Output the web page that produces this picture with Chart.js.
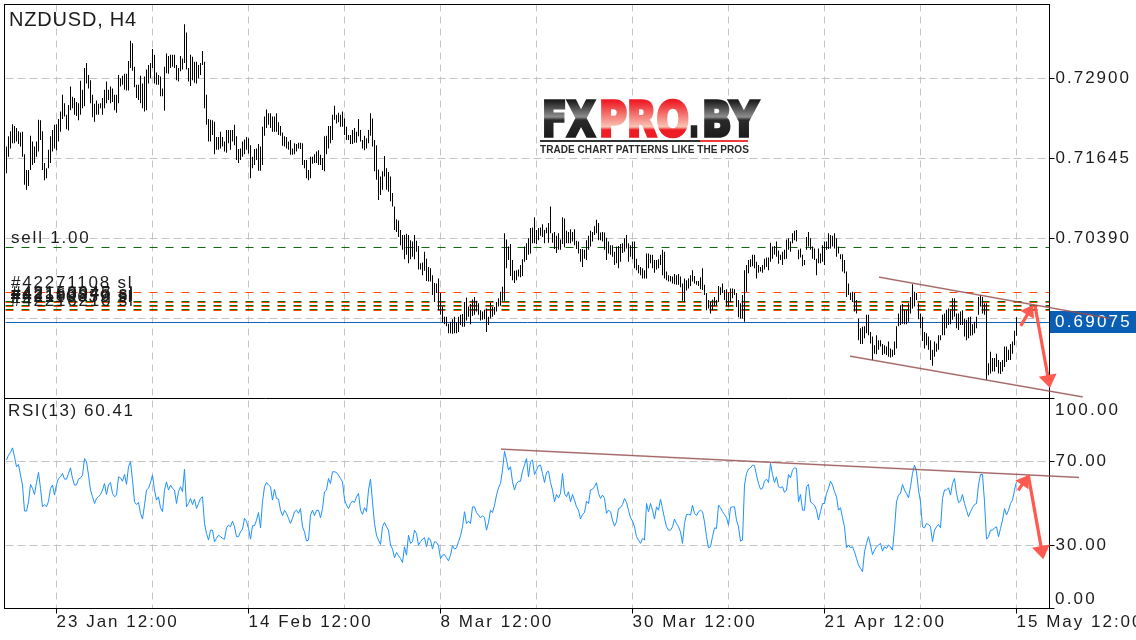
<!DOCTYPE html>
<html>
<head>
<meta charset="utf-8">
<title>NZDUSD, H4</title>
<script src="https://cdn.jsdelivr.net/npm/chart.js@4"></script>
<style>
  html, body { margin: 0; padding: 0; background: #fff; overflow: hidden; }
  canvas { display: block; }
</style>
</head>
<body>
<canvas id="chart" width="1136" height="640"></canvas>
<script>
// prices are kept in pips (7290 = 0.72900)
const highs = [
  7183,7199,7207,7218,7215,7212,7207,7205,7206,7171,7146,7146,7200,7191,7183,7191,7225,7224,7207,7157,
  7149,7178,7199,7209,7217,7218,7226,7238,7264,7251,7233,7248,7277,7261,7259,7253,7251,7286,7272,7306,
  7314,7295,7287,7264,7250,7255,7250,7251,7259,7272,7285,7272,7277,7274,7264,7264,7295,7290,7294,7297,
  7297,7317,7349,7345,7308,7280,7280,7294,7282,7293,7304,7311,7314,7336,7327,7299,7295,7293,7274,7308,
  7329,7325,7327,7327,7327,7311,7306,7325,7321,7375,7362,7306,7327,7324,7316,7316,7311,7314,7333,7316,
  7264,7226,7225,7224,7222,7198,7198,7206,7198,7191,7209,7209,7209,7209,7217,7199,7179,7180,7191,7194,
  7198,7196,7185,7167,7179,7180,7187,7183,7214,7230,7241,7235,7235,7230,7230,7235,7221,7215,7205,7199,
  7198,7191,7193,7180,7188,7187,7189,7189,7188,7162,7162,7146,7167,7167,7171,7175,7177,7170,7165,7199,
  7200,7215,7215,7233,7247,7233,7236,7233,7238,7227,7214,7201,7201,7209,7212,7206,7226,7209,7193,7200,
  7196,7209,7235,7227,7193,7185,7147,7136,7144,7168,7149,7143,7136,7110,7089,7069,7067,7052,7044,7044,
  7046,7044,7036,7034,7044,7035,7027,7000,7001,7018,7007,6994,6992,6981,6969,6968,6976,6953,6932,6916,
  6916,6905,6908,6912,6916,6907,6916,6919,6920,6939,6946,6932,6936,6943,6947,6941,6937,6926,6924,6927,
  6929,6916,6938,6931,6931,6939,6945,6955,6963,7047,7037,7026,7030,7005,6988,6989,6990,6997,7006,7026,
  7031,7039,7055,7056,7072,7052,7055,7056,7061,7052,7056,7063,7089,7047,7049,7043,7047,7037,7072,7070,
  7051,7049,7053,7049,7053,7035,7034,7022,7022,7021,7036,7043,7051,7049,7058,7068,7063,7048,7049,7048,
  7040,7034,7028,7028,7018,7026,7027,7030,7031,7039,7044,7031,7028,7034,7034,7007,6997,6994,6992,6989,
  7015,7015,7013,7013,7005,7005,7006,7013,7021,7018,6987,6981,6980,6979,6983,6981,6983,6979,6968,6976,
  6973,6976,6981,6989,6980,6972,6972,6978,6992,6966,6953,6942,6939,6943,6947,6942,6964,6962,6968,6958,
  6959,6954,6960,6960,6959,6953,6942,6937,6950,6989,6997,7005,7006,7013,7013,7002,6997,6994,6997,7007,
  7009,7009,7032,7026,7027,7034,7020,7013,7018,7021,7037,7039,7034,7047,7051,7052,7021,7023,7013,7005,
  7041,7049,7039,7026,7023,7007,7023,7015,7028,7034,7034,7047,7044,7043,7047,7039,7026,7014,7014,7005,
  6987,6968,6954,6955,6953,6942,6913,6898,6900,6901,6919,6919,6892,6885,6871,6887,6879,6879,6873,6871,
  6869,6877,6866,6864,6877,6901,6921,6934,6936,6926,6926,6937,6947,6967,6955,6953,6937,6921,6916,6892,
  6890,6885,6879,6864,6877,6874,6887,6887,6919,6921,6927,6929,6926,6945,6945,6921,6921,6924,6926,6913,
  6911,6915,6916,6904,6908,6916,6947,6950,6947,6937,6937,6843,6861,6851,6851,6858,6848,6845,6848,6869,
  6869,6864,6873,6877,6894,6915
];
const lows = [
  7141,7167,7180,7188,7188,7191,7187,7183,7167,7123,7115,7121,7146,7154,7157,7167,7175,7193,7146,7130,
  7133,7149,7157,7175,7180,7177,7191,7206,7226,7230,7210,7208,7240,7243,7233,7231,7224,7233,7243,7246,
  7282,7274,7251,7229,7222,7233,7233,7243,7233,7243,7251,7256,7251,7253,7240,7236,7251,7277,7280,7272,
  7271,7271,7306,7302,7276,7259,7256,7251,7243,7238,7240,7282,7290,7306,7282,7280,7280,7262,7262,7239,
  7298,7297,7306,7308,7306,7287,7285,7301,7304,7314,7304,7285,7278,7287,7283,7282,7290,7295,7311,7243,
  7217,7191,7191,7201,7171,7178,7178,7180,7183,7175,7173,7188,7178,7191,7185,7162,7157,7162,7167,7171,
  7178,7172,7133,7149,7154,7162,7145,7145,7154,7200,7212,7217,7212,7206,7206,7206,7201,7200,7184,7183,
  7180,7178,7170,7170,7171,7175,7180,7179,7154,7149,7133,7130,7133,7156,7157,7157,7154,7154,7146,7144,
  7171,7180,7188,7193,7225,7219,7221,7214,7214,7201,7193,7193,7187,7187,7189,7189,7199,7191,7180,7177,
  7180,7188,7200,7183,7144,7131,7099,7107,7115,7136,7115,7112,7097,7089,7052,7049,7041,7028,7021,7006,
  7013,7000,7006,7010,7006,7018,6990,6990,6981,6988,6972,6971,6971,6950,6939,6953,6926,6919,6907,6904,
  6901,6890,6890,6889,6890,6890,6892,6903,6900,6900,6910,6916,6904,6917,6919,6924,6919,6910,6911,6912,
  6892,6903,6913,6916,6919,6924,6932,6933,6941,6941,6992,7005,6980,6973,6969,6973,6979,6978,6980,7002,
  7005,7013,7015,7031,7031,7030,7036,7043,7041,7031,7047,7032,7047,7032,7022,7016,7021,7021,7030,7025,
  7031,7031,7031,7034,7028,7022,7015,7002,6994,7007,7005,7021,7026,7034,7044,7047,7036,7036,7034,7021,
  7005,7015,7013,7010,6997,7000,6992,7002,7016,7018,7023,7002,7010,7006,6992,6989,6984,6981,6976,6976,
  6976,6992,7000,6992,6985,6990,6992,6997,6981,6976,6973,6971,6971,6968,6967,6966,6966,6962,6941,6939,
  6957,6960,6964,6971,6968,6966,6964,6959,6958,6950,6926,6929,6921,6926,6933,6934,6939,6950,6953,6942,
  6932,6931,6939,6945,6950,6931,6915,6913,6913,6908,6955,6984,6994,6995,6992,6976,6985,6987,6985,6990,
  6994,6989,7002,7007,7013,7010,6999,7005,6997,7006,7007,7021,7018,7031,7036,7034,7006,7009,6995,6997,
  7021,7026,7021,7007,7005,6981,7000,7000,7002,6997,7021,7022,7023,7026,7023,7010,7015,7006,6987,6984,
  6947,6950,6942,6939,6924,6921,6879,6873,6873,6882,6890,6887,6874,6848,6858,6857,6864,6869,6856,6858,
  6856,6853,6852,6853,6856,6866,6901,6903,6905,6904,6904,6908,6921,6929,6932,6942,6912,6898,6878,6866,
  6871,6864,6848,6839,6853,6861,6864,6879,6887,6887,6898,6903,6904,6911,6916,6898,6895,6903,6903,6885,
  6879,6882,6886,6887,6890,6898,6919,6932,6921,6919,6817,6824,6827,6830,6830,6837,6827,6826,6830,6837,
  6845,6848,6848,6858,6871,6886
];
const rsiValues = [
  70.7,73.0,74.3,76.5,72.2,67.5,68.6,63.5,58.8,46.4,46.4,50.8,59.1,57.2,54.3,60.0,64.8,57.2,48.4,49.5,
  48.4,51.1,57.2,58.8,54.0,59.1,61.9,62.7,64.3,61.6,61.6,64.3,67.0,61.9,58.8,58.8,61.6,62.2,63.5,71.4,
  69.9,63.5,56.4,53.2,50.0,52.4,53.2,54.3,56.4,59.5,54.3,58.8,60.0,54.8,53.2,54.0,62.7,62.2,60.6,63.8,
  59.1,67.5,69.9,61.1,50.8,49.5,50.5,45.3,42.6,49.2,56.4,57.2,60.0,63.5,56.4,51.6,53.2,48.0,46.1,56.4,
  60.3,56.4,58.8,57.2,56.4,50.0,55.6,58.0,55.6,66.4,48.4,50.0,52.4,49.5,52.1,47.6,50.0,52.4,53.2,40.5,
  35.7,32.6,37.3,37.3,31.8,33.4,34.9,34.2,33.4,33.0,38.4,39.7,38.9,41.6,38.9,34.2,34.2,36.5,37.8,42.9,
  41.6,38.1,33.0,39.4,39.4,42.1,45.7,38.4,50.8,58.0,60.0,58.8,58.0,51.6,56.8,52.4,52.1,46.8,44.2,46.8,
  45.3,42.9,40.5,42.9,46.1,46.8,45.3,47.6,38.9,36.5,32.1,32.6,44.5,46.8,44.2,46.8,46.8,43.2,47.6,55.6,
  56.4,61.9,59.5,65.1,65.1,64.8,63.5,61.9,60.3,52.1,49.2,47.6,50.0,51.1,50.5,53.2,54.8,46.8,44.8,48.0,
  46.1,56.4,61.6,50.8,40.5,34.9,32.6,30.5,38.9,41.0,38.9,37.3,30.2,28.3,24.2,26.7,25.1,23.8,21.9,29.4,
  25.4,34.9,31.0,31.8,37.3,35.7,30.2,31.8,33.0,33.7,29.4,33.7,32.6,28.3,31.8,31.5,29.9,23.8,25.4,25.7,
  24.2,22.7,25.4,29.9,28.3,28.9,31.8,34.6,38.9,46.1,40.5,41.6,40.5,48.4,48.4,45.7,44.5,43.2,44.2,43.2,
  37.3,41.0,46.8,45.7,49.2,54.0,57.5,59.5,65.9,74.9,70.7,65.9,67.5,60.3,56.4,59.5,60.6,60.6,65.4,68.3,
  71.4,62.7,69.9,70.7,63.8,65.9,68.0,68.3,64.3,60.0,64.8,65.4,60.0,56.4,50.8,54.3,52.7,54.8,64.3,54.8,
  53.2,55.6,50.8,54.3,51.6,48.4,46.8,42.6,44.8,45.7,51.1,50.0,56.4,56.8,58.0,59.9,54.8,52.4,54.0,52.4,
  45.3,46.8,46.1,42.1,39.2,41.3,47.6,48.0,49.5,52.4,50.5,46.8,43.2,41.6,38.9,34.2,32.6,31.0,33.4,32.6,
  50.0,46.1,50.0,46.8,42.6,48.4,46.8,52.1,47.6,42.9,38.9,37.3,37.3,38.9,42.6,40.5,38.9,36.5,31.0,40.5,
  44.8,44.8,44.5,49.2,45.3,44.2,46.1,46.8,46.1,41.3,34.2,28.9,29.4,34.2,38.4,38.1,49.2,48.0,46.1,44.8,
  43.2,39.7,48.0,48.4,48.4,42.1,38.9,32.1,32.6,58.8,64.3,66.4,67.0,68.3,68.0,63.5,59.5,56.8,57.2,60.6,
  61.6,60.0,69.1,63.8,60.0,62.7,58.0,57.5,58.0,55.3,56.4,63.8,62.2,65.9,67.0,66.7,50.8,54.3,46.8,46.8,
  58.0,59.1,50.8,50.0,49.2,46.8,42.1,46.1,50.0,50.0,54.8,57.2,60.6,58.8,55.6,53.2,46.8,48.0,43.2,38.9,
  28.9,30.2,28.9,29.4,27.0,23.8,20.7,19.1,17.5,27.0,31.0,34.2,30.2,25.7,27.8,29.4,30.2,31.0,27.3,29.4,
  28.6,30.2,29.4,27.8,38.1,50.8,54.0,54.8,59.1,56.4,54.8,52.7,58.0,64.3,68.3,65.1,56.4,50.8,38.9,38.4,
  40.5,40.0,38.9,31.8,37.3,38.9,40.0,38.4,52.4,56.4,56.4,57.5,54.0,59.5,61.9,54.8,50.5,51.1,54.3,50.0,
  46.8,43.7,46.1,48.0,49.5,50.0,58.8,63.8,63.8,50.8,33.0,34.2,37.3,37.3,38.4,38.9,34.2,38.1,42.1,47.6,
  44.5,46.8,50.0,51.6,56.4,60.41
];

// axis labels
const slotCount = 522;
const categories = Array.from({ length: slotCount }, (_, i) => i);
const dateTicks = [25, 73, 121, 169, 217, 265, 313, 361, 409, 457, 505];
const dateLabels = { 25: '23 Jan 12:00', 121: '14 Feb 12:00', 217: '8 Mar 12:00', 313: '30 Mar 12:00', 409: '21 Apr 12:00', 505: '15 May 12:00' };
const priceTicks = [7290, 7164.5, 7039, 6913.5];
const rsiTicks = [100, 70, 30, 0];

// order lines
const currentPrice = 6907.5;
const sellLevels = [7025, 6940, 6934, 6927];
const stopLevels = [6954, 6938, 6932, 6926];
const sellLabel = ['sell 1.00', 7025];
const stopLabels = ['#42271108 sl', '#42150945 sl', '#42163947 sl', '#42189270 sl', '#42110639 sl', '#42216210 sl'];
const stopLabelLevels = [6954, 6938, 6936, 6934, 6932, 6926];

// hand drawn lines: [bar index, value]
const priceTrends = [
  [[436.25, 6978], [552.25, 6913]],
  [[421.75, 6854], [538.1, 6790]]
];
const rsiTrend = [[247.25, 75.9], [536.25, 62.4]];
const priceArrows = [
  [[507.1, 6901.5], [513.25, 6934.5]],
  [[514.25, 6933], [521.75, 6804]]
];
const rsiArrows = [
  [[505.9, 56.3], [510.9, 63.5]],
  [[510.9, 63.5], [518.4, 23.5]]
];

const FONT = '"Liberation Sans", Arial, sans-serif';
const TEXT_COLOR = '#1c1c1c';
const GRID_COLOR = '#c4c4c4';

function drawArrow(ctx, x1, y1, x2, y2, head) {
  const a = Math.atan2(y2 - y1, x2 - x1);
  ctx.strokeStyle = '#ff5a50';
  ctx.fillStyle = '#ff5a50';
  ctx.lineWidth = 3.2;
  ctx.beginPath();
  ctx.moveTo(x1, y1);
  ctx.lineTo(x2 - Math.cos(a) * head * 0.7, y2 - Math.sin(a) * head * 0.7);
  ctx.stroke();
  ctx.beginPath();
  ctx.moveTo(x2, y2);
  ctx.lineTo(x2 - Math.cos(a - 0.6) * head, y2 - Math.sin(a - 0.6) * head);
  ctx.lineTo(x2 - Math.cos(a + 0.6) * head, y2 - Math.sin(a + 0.6) * head);
  ctx.closePath();
  ctx.fill();
}

function drawTrend(ctx, x1, y1, x2, y2) {
  ctx.beginPath();
  ctx.moveTo(x1, y1);
  ctx.lineTo(x2, y2);
  ctx.strokeStyle = 'rgba(170,105,105,0.5)';
  ctx.lineWidth = 1.8;
  ctx.stroke();
  ctx.strokeStyle = '#8a3c3c';
  ctx.lineWidth = 0.7;
  ctx.stroke();
}

function drawLogo(ctx) {
  ctx.save();
  ctx.fillStyle = '#fff';
  ctx.fillRect(538, 99, 224, 56);

  const dark = ctx.createLinearGradient(0, 101, 0, 139);
  dark.addColorStop(0, '#1e1e1e');
  dark.addColorStop(0.42, '#8e8e8e');
  dark.addColorStop(0.5, '#2a2a2a');
  dark.addColorStop(1, '#1a1a1a');
  const red = ctx.createLinearGradient(0, 101, 0, 139);
  red.addColorStop(0, '#ee1c25');
  red.addColorStop(0.68, '#f9c4b4');
  red.addColorStop(0.76, '#ee1c25');
  red.addColorStop(1, '#ee1c25');

  ctx.font = 'bold 48px "DejaVu Sans"';
  ctx.letterSpacing = '0px';
  ctx.lineWidth = 3.4;
  ctx.lineJoin = 'miter';
  const parts = [['FX', 542, 53, dark], ['PRO', 599, 90, red], ['.', 689, 10, dark], ['BY', 702, 56, dark]];
  parts.forEach(([text, x, w, paint]) => {
    ctx.fillStyle = paint;
    ctx.strokeStyle = paint;
    ctx.fillText(text, x, 136, w);
    ctx.strokeText(text, x, 136, w);
  });

  ctx.fillStyle = '#333';
  ctx.fillRect(540, 140, 160, 2);
  ctx.fillStyle = '#ee3a3a';
  ctx.fillRect(700, 140, 48, 2);

  ctx.fillStyle = '#2a2a2a';
  ctx.font = 'bold 10px "Liberation Sans"';
  ctx.letterSpacing = '0.06px';
  ctx.fillText('TRADE CHART PATTERNS LIKE THE PROS', 540, 153, 209);
  ctx.restore();
}

// sets letter spacing for the whole chart, the terminal font is wide
const spacingPlugin = {
  id: 'spacing',
  beforeUpdate(chart) { chart.ctx.letterSpacing = '2px'; },
  beforeDraw(chart) { chart.ctx.letterSpacing = '2px'; }
};

// order lines go under the bars
const levelPlugin = {
  id: 'levels',
  beforeDatasetsDraw(chart) {
    const { ctx, chartArea, scales } = chart;
    ctx.save();
    drawLogo(ctx);
    const drawLevel = (value, color) => {
      const y = Math.round(scales.y.getPixelForValue(value) - 0.5) + 0.5;
      ctx.beginPath();
      ctx.moveTo(chartArea.left, y);
      ctx.lineTo(chartArea.right, y);
      ctx.strokeStyle = color;
      ctx.lineWidth = 1;
      ctx.setLineDash([8, 8]);
      ctx.stroke();
    };
    sellLevels.forEach(v => drawLevel(v, '#0b6b0b'));
    stopLevels.forEach(v => drawLevel(v, '#ff4500'));
    ctx.setLineDash([]);
    const yNow = Math.round(scales.y.getPixelForValue(currentPrice) - 0.5) + 0.5;
    ctx.beginPath();
    ctx.moveTo(chartArea.left, yNow);
    ctx.lineTo(chartArea.right, yNow);
    ctx.strokeStyle = '#0a64b4';
    ctx.stroke();
    ctx.restore();
  }
};

const overlayPlugin = {
  id: 'overlay',
  afterDraw(chart) {
    const { ctx, scales } = chart;
    const px = i => scales.x.getPixelForValue(i);
    const py = v => scales.y.getPixelForValue(v);
    const ry = v => scales.rsi.getPixelForValue(v);
    ctx.save();

    // frame
    ctx.strokeStyle = '#000';
    ctx.lineWidth = 1;
    ctx.strokeRect(4.5, 4.5, 1045, 604);
    ctx.beginPath();
    ctx.moveTo(4.5, 398.5);
    ctx.lineTo(1049.5, 398.5);
    ctx.stroke();

    // current price box
    ctx.fillStyle = '#0a5fb4';
    ctx.fillRect(1050, Math.round(py(currentPrice)) - 11, 86, 22);
    ctx.fillStyle = '#fff';
    ctx.font = '17px ' + FONT;
    ctx.textBaseline = 'middle';
    ctx.letterSpacing = '2.2px';
    ctx.fillText((currentPrice / 10000).toFixed(5), 1055, py(currentPrice) + 0.5);

    // RSI 100 and 0 sit inside the panel edges
    ctx.fillStyle = TEXT_COLOR;
    ctx.textBaseline = 'alphabetic';
    ctx.fillText('100.00', 1055, ry(100) + 16);
    ctx.fillText('0.00', 1055, ry(0) - 4.5);

    // labels inside the panels
    ctx.font = '20px ' + FONT;
    ctx.letterSpacing = '0.8px';
    ctx.fillText('NZDUSD, H4', 9, 26);
    ctx.font = '17px ' + FONT;
    ctx.letterSpacing = '1.6px';
    ctx.fillText('RSI(13) ' + rsiValues[rsiValues.length - 1].toFixed(2), 8, 415.5);
    ctx.letterSpacing = '1.8px';
    ctx.fillText(sellLabel[0], 11, py(sellLabel[1]) - 4.5);
    stopLabels.forEach((text, i) => ctx.fillText(text, 11, py(stopLabelLevels[i]) - 4.5));

    // drawn lines and arrows
    priceTrends.forEach(t => drawTrend(ctx, px(t[0][0]), py(t[0][1]), px(t[1][0]), py(t[1][1])));
    drawTrend(ctx, px(rsiTrend[0][0]), ry(rsiTrend[0][1]), px(rsiTrend[1][0]), ry(rsiTrend[1][1]));
    priceArrows.forEach((a, i) => drawArrow(ctx, px(a[0][0]), py(a[0][1]), px(a[1][0]), py(a[1][1]), i ? 16 : 14));
    rsiArrows.forEach((a, i) => drawArrow(ctx, px(a[0][0]), ry(a[0][1]), px(a[1][0]), ry(a[1][1]), i ? 16 : 14));
    ctx.restore();
  }
};

function fitRightAxis(scale) {
  scale.width = 86.5;
  scale.paddingTop = 0;
  scale.paddingBottom = 0;
}

new Chart(document.getElementById('chart'), {
  type: 'bar',
  data: {
    labels: categories,
    datasets: [
      {
        type: 'bar',
        label: 'NZDUSD',
        yAxisID: 'y',
        data: highs.map((h, i) => [lows[i], h]),
        backgroundColor: '#000',
        borderWidth: 0,
        barThickness: 1,
        inflateAmount: 0
      },
      {
        type: 'line',
        label: 'RSI(13)',
        yAxisID: 'rsi',
        data: rsiValues,
        borderColor: '#1e90ff',
        borderWidth: 1,
        pointRadius: 0,
        tension: 0
      }
    ]
  },
  options: {
    responsive: false,
    animation: false,
    devicePixelRatio: 1,
    layout: { padding: { left: 5.5, top: 4.5, right: 0, bottom: 0 } },
    plugins: { legend: { display: false }, tooltip: { enabled: false }, title: { display: false } },
    scales: {
      x: {
        type: 'category',
        offset: true,
        afterBuildTicks(scale) { scale.ticks = dateTicks.map(v => ({ value: v })); },
        afterFit(scale) { scale.height = 31.5; scale.paddingLeft = 0; scale.paddingRight = 0; },
        grid: {
          color: GRID_COLOR,
          tickLength: 5,
          offset: false,
          tickColor: c => (c.tick && dateLabels[c.tick.value] ? '#000' : 'rgba(0,0,0,0)')
        },
        border: { display: false, dash: [7, 5] },
        ticks: {
          autoSkip: false,
          maxRotation: 0,
          minRotation: 0,
          align: 'start',
          padding: -1,
          color: TEXT_COLOR,
          font: { family: FONT, size: 17 },
          callback: value => dateLabels[value] || ''
        }
      },
      y: {
        position: 'right',
        stack: 'panels',
        stackWeight: 394,
        min: 6787.6,
        max: 7405.8,
        afterBuildTicks(scale) { scale.ticks = priceTicks.map(v => ({ value: v })); },
        afterFit: fitRightAxis,
        grid: { color: GRID_COLOR, tickLength: 5, tickColor: '#000' },
        border: { display: false, dash: [8, 4] },
        ticks: {
          padding: 1,
          color: TEXT_COLOR,
          font: { family: FONT, size: 17 },
          callback: v => (v === 6913.5 ? '' : (v / 10000).toFixed(5))
        }
      },
      rsi: {
        position: 'right',
        stack: 'panels',
        stackWeight: 210,
        min: 0,
        max: 100,
        afterBuildTicks(scale) { scale.ticks = rsiTicks.map(v => ({ value: v })); },
        afterFit: fitRightAxis,
        grid: {
          color: c => (c.tick && (c.tick.value === 70 || c.tick.value === 30) ? GRID_COLOR : 'rgba(0,0,0,0)'),
          tickLength: 5,
          tickColor: '#000'
        },
        border: { display: false, dash: [8, 4] },
        ticks: {
          padding: 1,
          color: TEXT_COLOR,
          font: { family: FONT, size: 17 },
          callback: v => (v === 70 || v === 30 ? v.toFixed(2) : '')
        }
      }
    }
  },
  plugins: [spacingPlugin, levelPlugin, overlayPlugin]
});
</script>
</body>
</html>
